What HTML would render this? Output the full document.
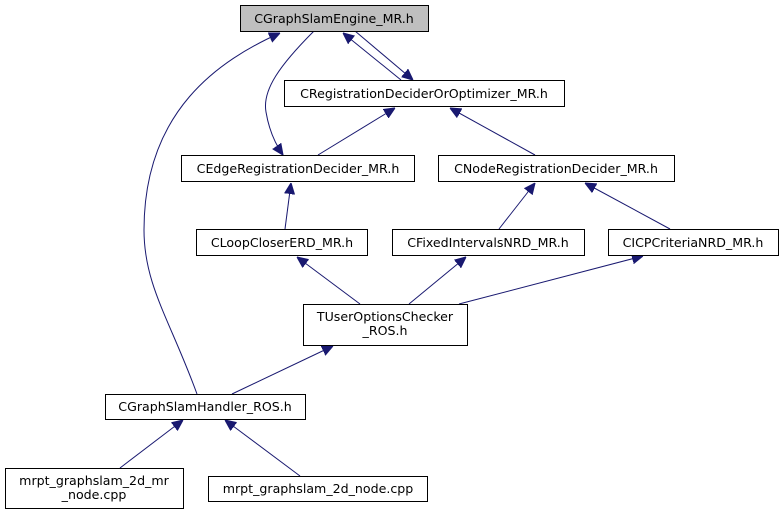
<!DOCTYPE html>
<html><head><style>body{margin:0;background:#fff}</style></head><body>
<svg width="780" height="515" xmlns="http://www.w3.org/2000/svg" font-family="DejaVu Sans, Liberation Sans, sans-serif" font-size="12.6">
<defs><marker id="a" viewBox="0 0 10 10" refX="10" refY="5" markerWidth="11" markerHeight="11" markerUnits="userSpaceOnUse" orient="auto"><path d="M0,0.5L10,5L0,9.5z" fill="#191970" stroke="#191970"/></marker></defs>
<g fill="none" stroke="#191970" stroke-width="1" marker-end="url(#a)">
<path d="M197,394 C170,320 144,285 144,230 C144,110 220,60 280,33"/>
<path d="M314,31 C280,65 262,90 266,112 C269,130 276,145 283,155"/>
<path d="M401,80 L343,33"/>
<path d="M355,31 L413,80"/>
<path d="M318,155 L395,108"/>
<path d="M535,155 L450,108"/>
<path d="M285,229 L291,183"/>
<path d="M499,229 L535,183"/>
<path d="M670,229 L585,183"/>
<path d="M360,304 L297,257"/>
<path d="M409,304 L466,257"/>
<path d="M459,304 L643,256"/>
<path d="M232,394 L333,346"/>
<path d="M120,468 L183,420"/>
<path d="M300,476 L225,420"/>
</g>
<g stroke="#000" stroke-width="1">
<rect x="240.5" y="5.5" width="188" height="26" fill="#bfbfbf"/>
<rect x="284.5" y="80.5" width="280" height="26" fill="#fff"/>
<rect x="181.5" y="155.5" width="233" height="26" fill="#fff"/>
<rect x="438.5" y="155.5" width="236" height="26" fill="#fff"/>
<rect x="196.5" y="229.5" width="171" height="26" fill="#fff"/>
<rect x="392.5" y="229.5" width="192" height="26" fill="#fff"/>
<rect x="608.5" y="229.5" width="170" height="26" fill="#fff"/>
<rect x="303.5" y="304.5" width="164" height="41" fill="#fff"/>
<rect x="105.5" y="394.5" width="200" height="25" fill="#fff"/>
<rect x="5.5" y="468.5" width="178" height="40" fill="#fff"/>
<rect x="208.5" y="476.5" width="219" height="25" fill="#fff"/>
</g>
<g text-anchor="middle" fill="#000">
<text x="334" y="23">CGraphSlamEngine_MR.h</text>
<text x="424" y="98">CRegistrationDeciderOrOptimizer_MR.h</text>
<text x="298" y="173">CEdgeRegistrationDecider_MR.h</text>
<text x="556" y="173">CNodeRegistrationDecider_MR.h</text>
<text x="282" y="247">CLoopCloserERD_MR.h</text>
<text x="488" y="247">CFixedIntervalsNRD_MR.h</text>
<text x="693" y="247">CICPCriteriaNRD_MR.h</text>
<text x="385" y="321">TUserOptionsChecker</text>
<text x="385" y="335">_ROS.h</text>
<text x="205" y="411">CGraphSlamHandler_ROS.h</text>
<text x="94" y="485">mrpt_graphslam_2d_mr</text>
<text x="94" y="499">_node.cpp</text>
<text x="318" y="493">mrpt_graphslam_2d_node.cpp</text>
</g>
</svg>
</body></html>
